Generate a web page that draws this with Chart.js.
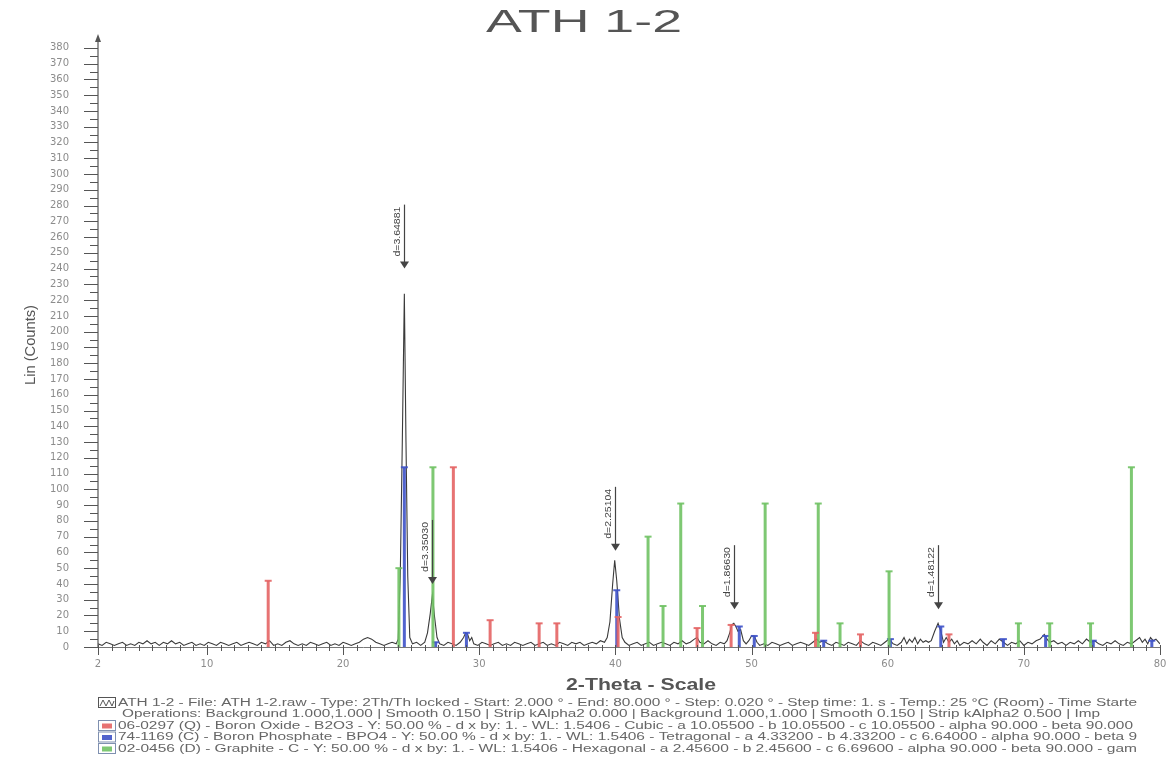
<!DOCTYPE html>
<html>
<head>
<meta charset="utf-8">
<title>ATH 1-2</title>
<script src="https://cdn.jsdelivr.net/npm/chart.js"></script>
<style>
  html, body { margin: 0; padding: 0; background: #fff; }
  canvas { display: block; }
</style>
</head>
<body>
<canvas id="xrd" width="1167" height="757"></canvas>
<script>
// measured scan: [2-theta, counts]
const scan = [
  [2.0,2],[2.3,1],[2.6,3],[2.9,2],[3.2,1],[3.5,2],[3.8,3],[4.1,1],[4.4,2],[4.7,1],[5.0,3],[5.3,2],[5.6,4],[5.9,2],
  [6.2,3],[6.5,1],[6.8,3],[7.1,2],[7.4,4],[7.7,2],[8.0,3],[8.3,1],[8.6,2],[8.9,3],[9.2,1],[9.5,2],[9.8,1],[10.1,3],
  [10.4,2],[10.7,1],[11.0,3],[11.3,2],[11.6,1],[11.9,2],[12.2,3],[12.5,1],[12.8,2],[13.1,3],[13.4,2],[13.7,1],[14.0,3],
  [14.3,2],[14.6,4],[14.9,1],[15.2,2],[15.5,1],[15.8,3],[16.1,4],[16.4,2],[16.7,1],[17.0,2],[17.3,1],[17.6,3],[17.9,2],
  [18.2,1],[18.5,2],[18.8,3],[19.1,1],[19.4,2],[19.7,1],[20.0,3],[20.3,2],[20.6,1],[20.9,2],[21.2,3],[21.5,5],[21.8,6],
  [22.1,5],[22.4,3],[22.7,2],[23.0,1],[23.3,2],[23.6,3],[23.9,2],[24.05,5],[24.2,45],[24.35,130],[24.5,224],[24.62,130],
  [24.75,45],[24.9,6],[25.1,2],[25.4,3],[25.7,1],[26.0,3],[26.2,9],[26.4,21],[26.56,33],[26.72,19],[26.9,6],[27.1,2],
  [27.4,1],[27.7,3],[28.0,2],[28.3,1],[28.6,3],[28.85,6],[29.0,9],[29.15,8],[29.3,4],[29.45,6],[29.6,2],[29.9,1],
  [30.2,3],[30.5,2],[30.8,1],[31.1,2],[31.4,3],[31.7,1],[32.0,2],[32.3,1],[32.6,3],[32.9,2],[33.2,1],[33.5,2],[33.8,3],
  [34.1,1],[34.4,2],[34.7,3],[35.0,1],[35.3,2],[35.6,1],[35.9,3],[36.2,2],[36.5,1],[36.8,3],[37.1,2],[37.4,3],[37.7,1],
  [38.0,2],[38.3,3],[38.6,2],[38.9,4],[39.2,3],[39.4,6],[39.6,16],[39.8,40],[39.95,55],[40.1,42],[40.3,18],[40.5,6],
  [40.7,3],[41.0,1],[41.3,2],[41.6,3],[41.9,1],[42.2,2],[42.5,3],[42.8,1],[43.1,2],[43.4,3],[43.7,2],[44.0,1],[44.3,3],
  [44.6,2],[44.9,4],[45.2,2],[45.5,3],[45.8,5],[46.0,6],[46.2,3],[46.5,2],[46.8,4],[47.1,2],[47.4,1],[47.7,3],[48.0,2],
  [48.2,4],[48.4,9],[48.55,14],[48.7,15],[48.85,13],[49.0,10],[49.2,11],[49.4,4],[49.6,2],[49.8,4],[50.0,7],[50.2,7],
  [50.4,3],[50.6,1],[50.9,2],[51.2,1],[51.5,3],[51.8,2],[52.1,1],[52.4,2],[52.7,3],[53.0,1],[53.3,2],[53.6,3],[53.9,2],
  [54.2,1],[54.5,3],[54.8,5],[55.0,3],[55.3,4],[55.6,2],[55.9,1],[56.2,3],[56.5,2],[56.8,1],[57.1,3],[57.4,2],[57.7,1],
  [58.0,4],[58.3,2],[58.6,1],[58.9,3],[59.2,2],[59.5,1],[59.8,3],[60.1,5],[60.4,2],[60.7,1],[61.0,3],[61.2,6],[61.4,2],
  [61.6,5],[61.8,3],[62.0,6],[62.2,2],[62.4,5],[62.6,3],[62.8,4],[63.0,3],[63.2,4],[63.45,10],[63.7,15],[63.9,10],
  [64.1,3],[64.3,6],[64.5,3],[64.7,5],[64.9,2],[65.1,4],[65.3,1],[65.6,3],[65.9,2],[66.2,4],[66.5,2],[66.8,5],[67.0,3],
  [67.3,1],[67.6,4],[67.9,2],[68.2,5],[68.5,3],[68.8,1],[69.1,3],[69.4,2],[69.7,4],[70.0,1],[70.3,3],[70.6,2],[70.9,4],
  [71.2,5],[71.5,8],[71.7,5],[71.9,3],[72.2,4],[72.5,2],[72.8,3],[73.1,1],[73.4,3],[73.7,2],[74.0,4],[74.3,2],[74.6,5],
  [74.9,3],[75.2,4],[75.5,2],[75.8,1],[76.1,3],[76.4,2],[76.7,4],[77.0,2],[77.3,1],[77.6,3],[77.9,2],[78.2,4],[78.5,6],
  [78.7,3],[78.9,5],[79.1,2],[79.3,6],[79.5,4],[79.7,5],[80.0,2]
];

// reference patterns (stick lines)
const oxideAngles  = [14.5, 28.1, 30.8, 34.4, 35.7, 40.2, 46.0, 48.5, 54.7, 58.0, 64.5];
const oxideHeights = [42, 114, 17, 15, 15, 19, 12, 14, 9, 8, 8];

const phosphateAngles  = [24.5, 26.8, 29.06, 40.1, 49.1, 50.2, 55.3, 60.2, 63.9, 68.5, 71.6, 75.1, 79.4];
const phosphateHeights = [114, 3, 9, 36, 13, 7, 4, 5, 13, 5, 7, 4, 4];

const graphiteAngles  = [24.1, 26.6, 42.4, 43.5, 44.8, 46.4, 51.0, 54.9, 56.5, 60.1, 69.6, 71.9, 74.9, 77.9];
const graphiteHeights = [50, 114, 70, 26, 91, 26, 91, 91, 15, 48, 15, 15, 15, 114];

// d-spacing markers
const peakAngles = [24.5, 26.56, 39.95, 48.7, 63.7];
const peakLabels = ['d=3.64881', 'd=3.35030', 'd=2.25104', 'd=1.86630', 'd=1.48122'];
const arrowTips  = [240, 40, 61, 24, 24];

const xTicks = [2, 10, 20, 30, 40, 50, 60, 70, 80];
const yTicks = [0,10,20,30,40,50,60,70,80,90,100,110,120,130,140,150,160,170,180,190,
                200,210,220,230,240,250,260,270,280,290,300,310,320,330,340,350,360,370,380];

const chartTitle = 'ATH 1-2';
const xTitle = '2-Theta - Scale';
const yTitle = 'Lin (Counts)';

const legendLines = [
  'ATH 1-2 - File: ATH 1-2.raw - Type: 2Th/Th locked - Start: 2.000 ° - End: 80.000 ° - Step: 0.020 ° - Step time: 1. s - Temp.: 25 °C (Room) - Time Starte',
  'Operations: Background 1.000,1.000 | Smooth 0.150 | Strip kAlpha2 0.000 | Background 1.000,1.000 | Smooth 0.150 | Strip kAlpha2 0.500 | Imp',
  '06-0297 (Q) - Boron Oxide - B2O3 - Y: 50.00 % - d x by: 1. - WL: 1.5406 - Cubic - a 10.05500 - b 10.05500 - c 10.05500 - alpha 90.000 - beta 90.000',
  '74-1169 (C) - Boron Phosphate - BPO4 - Y: 50.00 % - d x by: 1. - WL: 1.5406 - Tetragonal - a 4.33200 - b 4.33200 - c 6.64000 - alpha 90.000 - beta 9',
  '02-0456 (D) - Graphite - C - Y: 50.00 % - d x by: 1. - WL: 1.5406 - Hexagonal - a 2.45600 - b 2.45600 - c 6.69600 - alpha 90.000 - beta 90.000 - gam'
];

const RED = 'rgba(228, 100, 100, 0.9)';
const BLUE = 'rgba(62, 82, 200, 0.9)';
const GREEN = 'rgba(112, 194, 100, 0.9)';
const legendSwatches = ['scan', null, RED, BLUE, GREEN];

// each stick = base point, top point (with cap), gap
function stickPoints(angles, heights) {
    const pts = [];
    angles.forEach((a, i) => {
        pts.push({ x: a, y: 0 }, { x: a, y: heights[i], cap: true }, { x: a, y: null });
    });
    return pts;
}

function stickDataset(label, angles, heights, color) {
    return {
        label: label,
        data: stickPoints(angles, heights),
        borderColor: color,
        backgroundColor: color,
        borderWidth: 3,
        spanGaps: false,
        pointStyle: 'line',
        pointBorderColor: color,
        pointBorderWidth: 2,
        pointRadius: ctx => (ctx.raw && ctx.raw.cap ? 3.5 : 0),
        tension: 0
    };
}

// draw text squeezed/stretched to a given width (scanned print is wide)
function fitText(ctx, text, x, y, width, font, color, align) {
    ctx.save();
    ctx.font = font;
    const w = ctx.measureText(text).width;
    ctx.translate(x, y);
    ctx.scale(width / w, 1);
    ctx.fillStyle = color;
    ctx.textAlign = align || 'left';
    ctx.textBaseline = 'middle';
    ctx.fillText(text, 0, 0);
    ctx.restore();
}

const decorations = {
    id: 'decorations',
    afterDraw(chart) {
        const { ctx, chartArea } = chart;
        const xs = chart.scales.x, ys = chart.scales.y;
        const axisColor = '#555';
        ctx.save();

        // y axis with arrow
        ctx.strokeStyle = axisColor;
        ctx.lineWidth = 1.2;
        ctx.beginPath();
        ctx.moveTo(chartArea.left, chartArea.bottom);
        ctx.lineTo(chartArea.left, chartArea.top - 2);
        ctx.stroke();
        ctx.fillStyle = axisColor;
        ctx.beginPath();
        ctx.moveTo(chartArea.left, chartArea.top - 6);
        ctx.lineTo(chartArea.left - 3, chartArea.top + 2);
        ctx.lineTo(chartArea.left + 3, chartArea.top + 2);
        ctx.closePath();
        ctx.fill();

        // y ticks: major every 10, minor every 5
        ctx.lineWidth = 1;
        for (let v = 0; v <= 380; v += 5) {
            const py = Math.round(ys.getPixelForValue(v)) + 0.5;
            const len = v % 10 === 0 ? 14 : 8;
            ctx.beginPath();
            ctx.moveTo(chartArea.left - len, py);
            ctx.lineTo(chartArea.left, py);
            ctx.stroke();
        }

        // x axis and ticks: every degree, longer at labelled ones
        ctx.strokeStyle = '#777';
        ctx.beginPath();
        ctx.moveTo(chartArea.left, chartArea.bottom + 0.5);
        ctx.lineTo(chartArea.right, chartArea.bottom + 0.5);
        ctx.stroke();
        ctx.strokeStyle = axisColor;
        for (let v = 2; v <= 80; v += 1) {
            const px = Math.round(xs.getPixelForValue(v)) + 0.5;
            const len = xTicks.includes(v) ? 8 : 4;
            ctx.beginPath();
            ctx.moveTo(px, chartArea.bottom - 2);
            ctx.lineTo(px, chartArea.bottom + len);
            ctx.stroke();
        }

        // d-spacing arrows
        peakAngles.forEach((a, i) => {
            const px = Math.round(xs.getPixelForValue(a)) + 0.5;
            const tip = ys.getPixelForValue(arrowTips[i]);
            ctx.strokeStyle = '#444';
            ctx.fillStyle = '#444';
            ctx.lineWidth = 1.2;
            ctx.beginPath();
            ctx.moveTo(px, tip - 64);
            ctx.lineTo(px, tip - 5);
            ctx.stroke();
            ctx.beginPath();
            ctx.moveTo(px - 4.5, tip - 7);
            ctx.lineTo(px + 4.5, tip - 7);
            ctx.lineTo(px, tip);
            ctx.closePath();
            ctx.fill();
            ctx.save();
            ctx.translate(px - 7, tip - 12);
            ctx.rotate(-Math.PI / 2);
            fitText(ctx, peakLabels[i], 0, 0, 50, '9px "Liberation Sans"', '#444', 'left');
            ctx.restore();
        });

        // titles
        fitText(ctx, chartTitle, 584, 23, 196, '31px "Liberation Sans"', '#555', 'center');
        fitText(ctx, xTitle, 641, 686, 150, 'bold 16px "Liberation Sans"', '#555', 'center');
        ctx.save();
        ctx.translate(31, 345);
        ctx.rotate(-Math.PI / 2);
        fitText(ctx, yTitle, 0, 0, 80, '15px "Liberation Sans"', '#555', 'center');
        ctx.restore();

        // legend block
        const lineY = [703, 714.5, 726, 737.5, 749];
        const lineX = [118, 122, 118, 118, 118];
        const lineW = [1019, 978, 1015, 1019, 1019];
        legendLines.forEach((t, i) => {
            const sw = legendSwatches[i];
            const y = lineY[i];
            if (sw === 'scan') {
                ctx.strokeStyle = '#555';
                ctx.lineWidth = 1;
                ctx.strokeRect(98.5, y - 5.5, 17, 10);
                ctx.beginPath();
                ctx.moveTo(100, y + 3);
                ctx.lineTo(103, y - 3);
                ctx.lineTo(106, y + 3);
                ctx.lineTo(109, y - 3);
                ctx.lineTo(112, y + 3);
                ctx.lineTo(114, y - 2);
                ctx.stroke();
            } else if (sw) {
                ctx.strokeStyle = '#7f90b0';
                ctx.lineWidth = 1;
                ctx.strokeRect(98.5, y - 5.5, 17, 10);
                ctx.fillStyle = sw;
                ctx.fillRect(102, y - 2.5, 10, 5);
            }
            fitText(ctx, t, lineX[i], y, lineW[i], '10px "Liberation Sans"', '#666', 'left');
        });

        ctx.restore();
    }
};

const ctx = document.getElementById('xrd').getContext('2d');
const tickFont = { family: '"DejaVu Sans"', size: 10 };

new Chart(ctx, {
    type: 'line',
    data: {
        datasets: [
            stickDataset('Boron Oxide', oxideAngles, oxideHeights, RED),
            stickDataset('Graphite', graphiteAngles, graphiteHeights, GREEN),
            stickDataset('Boron Phosphate', phosphateAngles, phosphateHeights, BLUE),
            {
                label: 'ATH 1-2',
                data: scan.map(p => ({ x: p[0], y: p[1] })),
                borderColor: '#3a3a3a',
                borderWidth: 1.1,
                pointRadius: 0,
                tension: 0
            }
        ]
    },
    options: {
        responsive: false,
        animation: false,
        events: [],
        layout: { padding: { top: 40, right: 7, left: 0, bottom: 0 } },
        plugins: {
            legend: { display: false },
            tooltip: { enabled: false },
            title: { display: false }
        },
        scales: {
            x: {
                type: 'linear',
                min: 2,
                max: 80,
                afterBuildTicks: s => { s.ticks = xTicks.map(v => ({ value: v })); },
                afterFit: s => { s.height = 110; s.paddingLeft = 0; s.paddingRight = 0; },
                grid: { display: false, drawTicks: false },
                border: { display: false },
                ticks: { padding: 11, autoSkip: false, maxRotation: 0, font: tickFont, color: '#8c8c8c' }
            },
            y: {
                type: 'linear',
                min: 0,
                max: 385,
                afterBuildTicks: s => { s.ticks = yTicks.map(v => ({ value: v })); },
                afterFit: s => { s.width = 98; s.paddingTop = 0; s.paddingBottom = 0; },
                grid: { display: false, drawTicks: false },
                border: { display: false },
                ticks: { padding: 29, autoSkip: false, font: tickFont, color: '#8c8c8c' }
            }
        }
    },
    plugins: [decorations]
});
</script>
</body>
</html>
